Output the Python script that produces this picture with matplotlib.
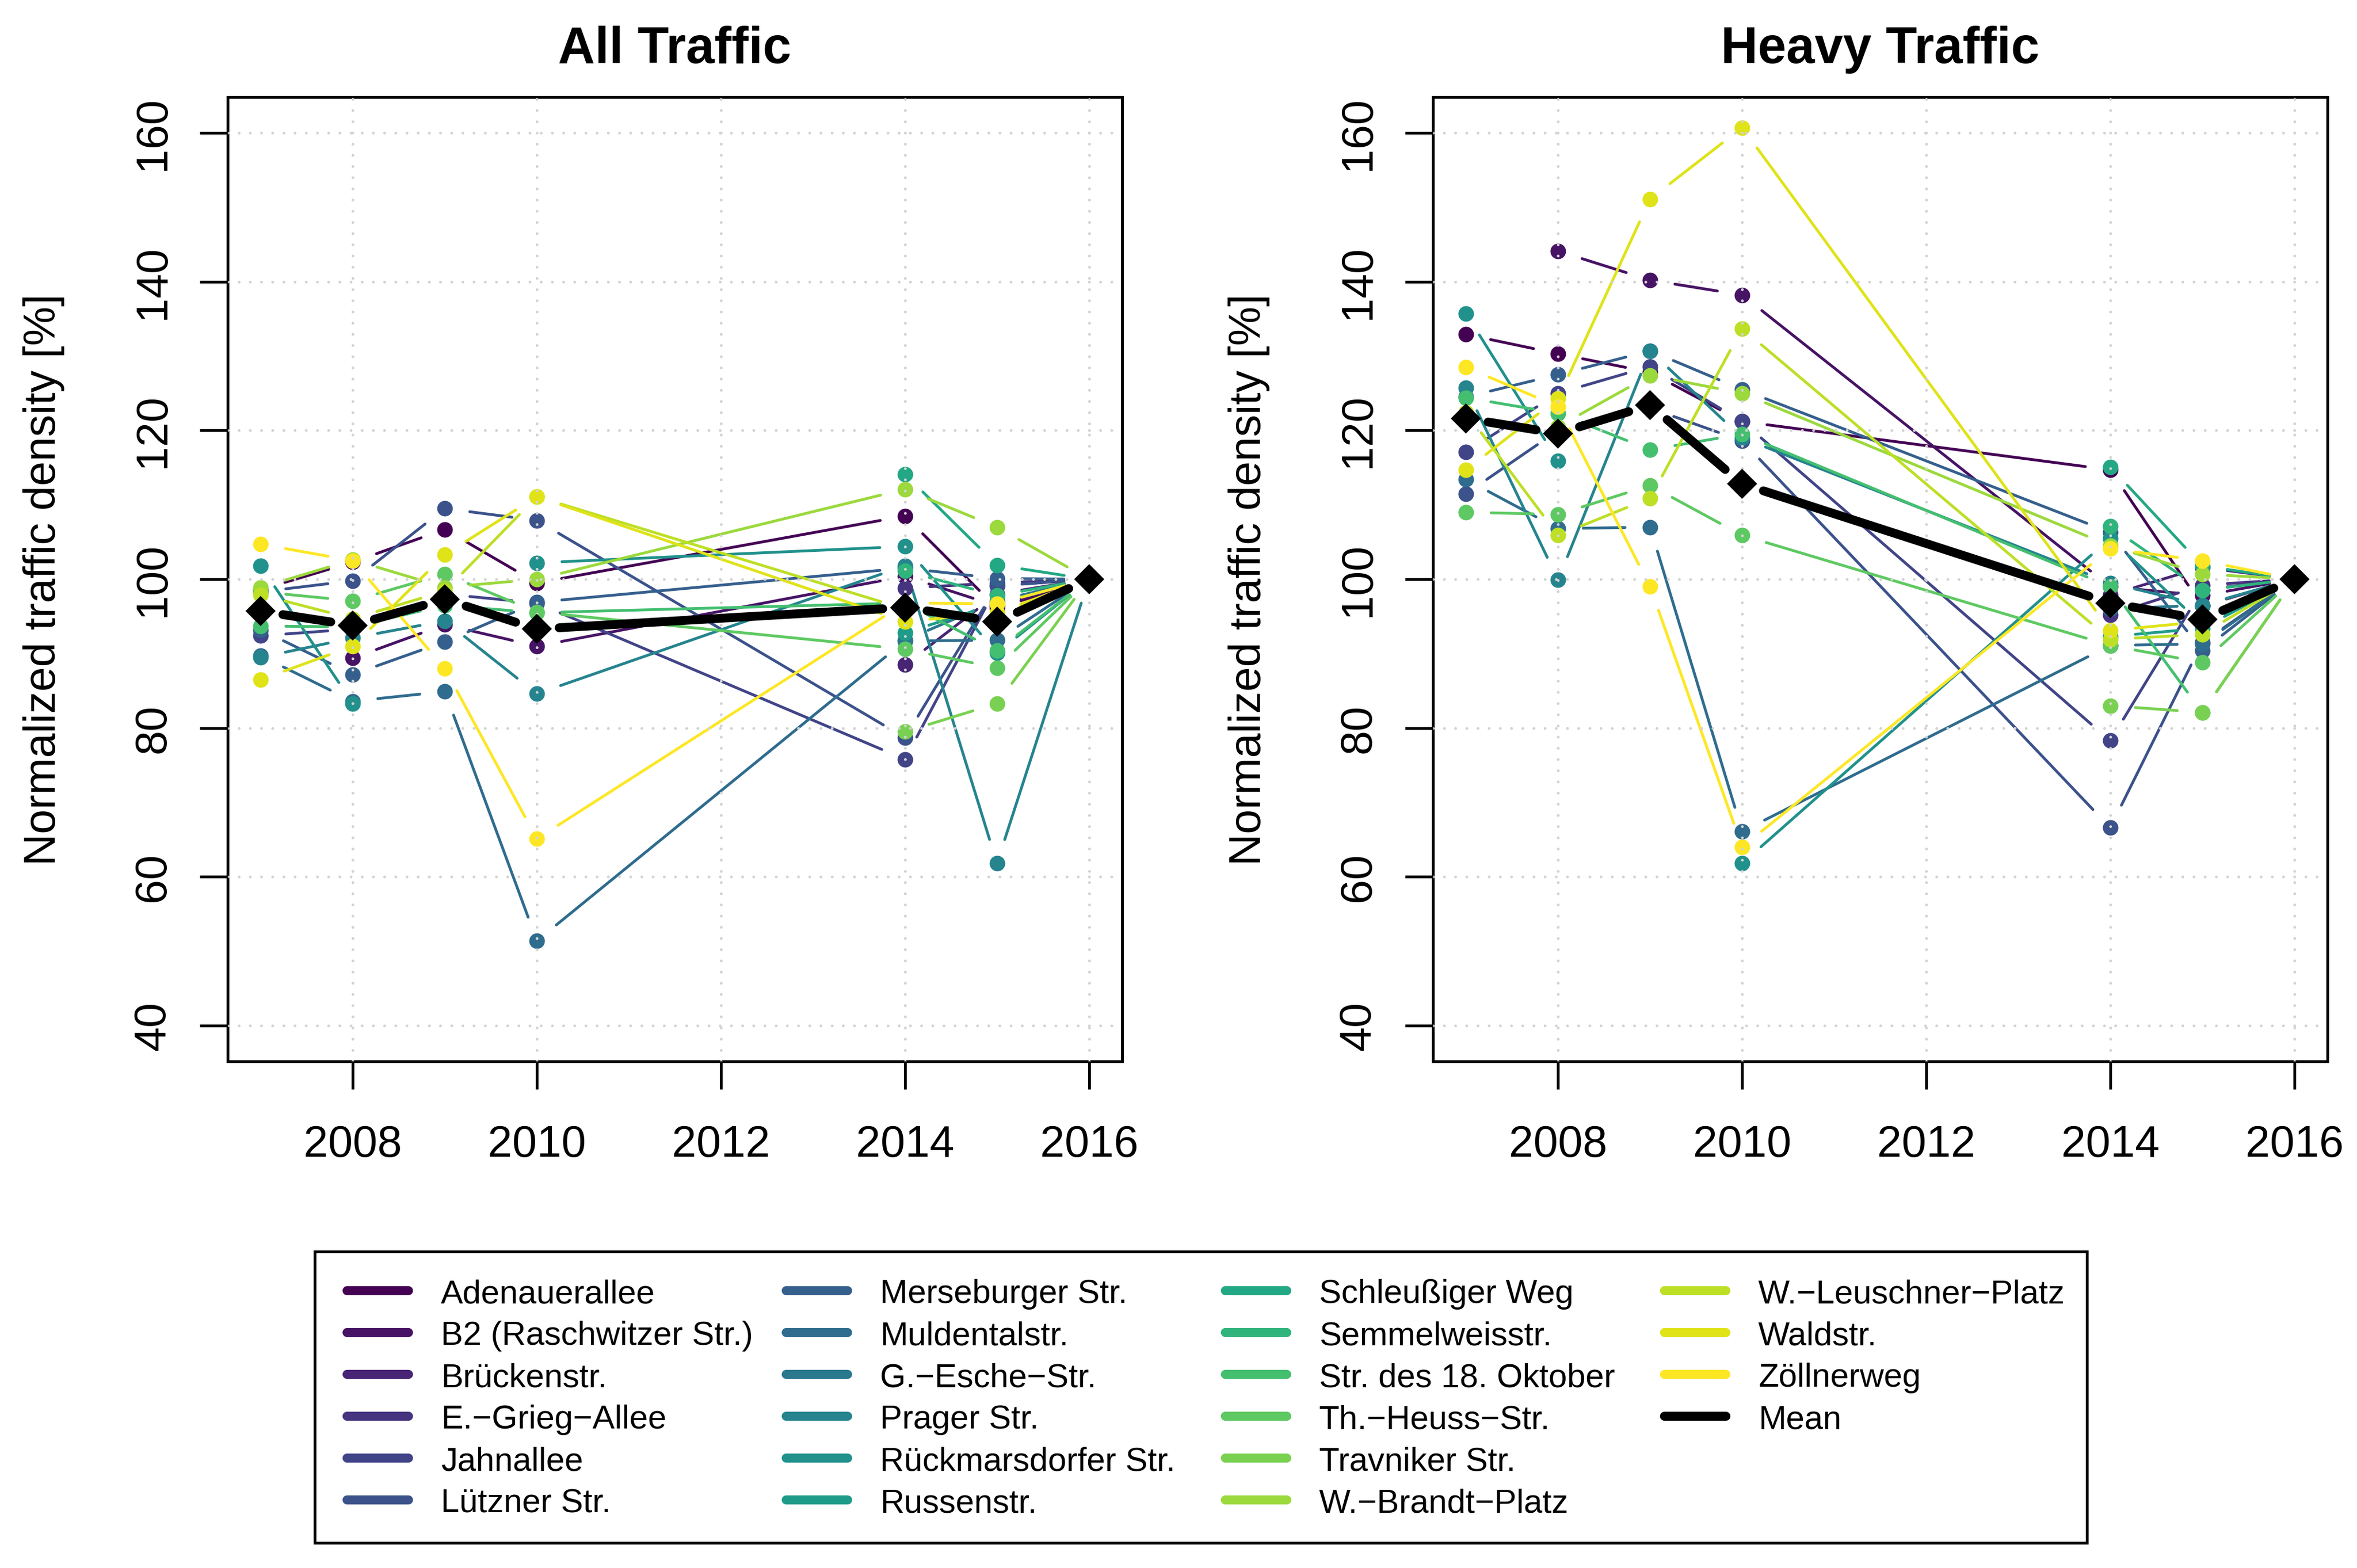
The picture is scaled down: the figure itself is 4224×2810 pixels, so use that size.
import numpy as np
import matplotlib
matplotlib.use("Agg")
import matplotlib.pyplot as plt
from matplotlib.lines import Line2D
from matplotlib.patches import Rectangle

plt.rcParams['font.family'] = ['Liberation Sans', 'DejaVu Sans']

nan = np.nan
years = [2007, 2008, 2009, 2010, 2014, 2015, 2016]

stations = ["Adenauerallee", "B2 (Raschwitzer Str.)", "Brückenstr.", "E.\u2212Grieg\u2212Allee",
            "Jahnallee", "Lützner Str.", "Merseburger Str.", "Muldentalstr.", "G.\u2212Esche\u2212Str.",
            "Prager Str.", "Rückmarsdorfer Str.", "Russenstr.", "Schleußiger Weg", "Semmelweisstr.",
            "Str. des 18. Oktober", "Th.\u2212Heuss\u2212Str.", "Travniker Str.", "W.\u2212Brandt\u2212Platz",
            "W.\u2212Leuschner\u2212Platz", "Waldstr.", "Zöllnerweg"]

# normalized to 2016 = 100, one row per station (years as above)
all_traffic = [
    [98.6, 102.3, 106.7, 99.5, 108.5, 96.1, 100],
    [nan, 89.4, 93.9, 91.0, 100.4, 96.4, 100],
    [nan, nan, nan, nan, 88.5, 98.0, 100],
    [nan, nan, nan, nan, 98.8, 99.5, 100],
    [92.4, 93.3, 98.0, 96.8, 75.8, 99.1, 100],
    [98.3, 99.8, 109.5, 107.9, 78.7, 99.1, 100],
    [93.2, 87.2, 91.6, 96.9, 101.5, 100.1, 100],
    [89.7, 83.6, 84.9, 51.4, 91.7, 91.8, 100],
    [nan, nan, nan, nan, 91.8, 97.1, 100],
    [89.5, 92.1, 94.4, 84.6, 101.8, 61.8, 100],
    [101.8, 83.3, nan, 102.2, 104.4, 90.1, 100],
    [nan, nan, nan, nan, 92.8, 96.7, 100],
    [nan, nan, nan, nan, 114.1, 101.9, 100],
    [nan, nan, nan, nan, 101.1, 97.8, 100],
    [93.7, 93.6, 96.5, 95.5, 96.8, 90.4, 100],
    [98.3, 97.1, 100.7, 95.6, 90.6, 88.1, 100],
    [nan, nan, nan, nan, 79.5, 83.3, 100],
    [98.9, 102.6, 98.9, 100.0, 112.1, 107.0, 100],
    [97.9, 94.7, 98.4, 111.1, 96.0, 95.0, 100],
    [86.5, 91.0, 103.3, 111.1, 94.3, 95.5, 100],
    [104.7, 102.5, 88.0, 65.1, 96.8, 96.7, 100],
]
all_mean = [95.7, 93.8, 97.3, 93.3, 96.2, 94.3, 100]

heavy_traffic = [
    [132.9, 130.3, 127.8, 121.2, 114.7, 96.4, 100],
    [nan, 144.1, 140.2, 138.2, 99.0, 97.8, 100],
    [nan, nan, nan, nan, 97.9, 101.6, 100],
    [nan, nan, nan, nan, 95.2, 99.2, 100],
    [117.1, 125.0, 128.6, 121.2, 78.3, 98.6, 100],
    [111.5, 120.0, 123.0, 118.6, 66.6, 91.5, 100],
    [124.5, 127.5, 130.7, 125.5, 106.3, 90.4, 100],
    [113.4, 106.8, 107.0, 66.1, 91.1, 91.3, 100],
    [nan, nan, nan, nan, 96.0, 96.5, 100],
    [125.7, 99.9, 130.7, 119.0, 99.5, 96.5, 100],
    [135.7, 115.9, nan, 61.8, 105.5, 93.9, 100],
    [nan, nan, nan, nan, 92.3, 93.4, 100],
    [nan, nan, nan, nan, 115.1, 101.8, 100],
    [nan, nan, nan, nan, 107.1, 98.5, 100],
    [124.4, 122.3, 117.4, 119.5, 99.0, 82.1, 100],
    [109.0, 108.7, 112.6, 105.9, 91.1, 88.8, 100],
    [nan, nan, nan, nan, 83.0, 82.1, 100],
    [nan, 120.5, 127.4, 125.0, 104.5, 100.7, 100],
    [122.4, 105.9, 110.9, 133.7, 91.9, 92.6, 100],
    [114.7, 124.3, 151.1, 160.7, 93.1, 94.3, 100],
    [128.5, 123.2, 99.0, 64.0, 104.1, 102.5, 100],
]
heavy_mean = [121.6, 119.6, 123.4, 112.8, 96.8, 94.6, 100]

colors = plt.cm.viridis(np.linspace(0, 1, len(stations)))

DPI = 300
W, H = 4224, 2811
fig = plt.figure(figsize=(W / DPI, H / DPI), dpi=DPI)


def gap_lines(ax, x, y, gap_px, **kw):
    # R type="b": segments stop short of the points
    pts = ax.transData.transform(np.column_stack([x, y]))
    inv = ax.transData.inverted()
    for i in range(len(x) - 1):
        if np.isnan(y[i]) or np.isnan(y[i + 1]):
            continue
        p0, p1 = pts[i], pts[i + 1]
        d = p1 - p0
        L = np.hypot(d[0], d[1])
        if L <= 2 * gap_px:
            continue
        u = d / L
        seg = inv.transform([p0 + u * gap_px, p1 - u * gap_px])
        ax.plot(seg[:, 0], seg[:, 1], solid_capstyle='round', **kw)


def panel(rect, data, mean, title):
    ax = fig.add_axes(rect)
    ax.set_xlim(2006.64, 2016.36)
    ax.set_ylim(35.2, 164.8)
    ax.set_xticks([2008, 2010, 2012, 2014, 2016])
    ax.set_yticks([40, 60, 80, 100, 120, 140, 160])
    x = np.array(years, dtype=float)

    for i, row in enumerate(data):
        y = np.array(row, dtype=float)
        gap_lines(ax, x, y, 45, color=colors[i], lw=1.2, zorder=1)
    for i, row in enumerate(data):
        ax.plot(x, row, 'o', color=colors[i], ms=6.7, mec='none', zorder=2)

    ax.set_axisbelow(False)
    ax.grid(True, color='#d3d3d3', linestyle=(0, (0.01, 4)), linewidth=1.2,
            dash_capstyle='round')

    m = np.array(mean, dtype=float)
    gap_lines(ax, x, m, 40, color='black', lw=3.8, zorder=3)
    ax.plot(x, m, 'D', color='black', ms=9.3, mec='none', zorder=3)

    for s in ax.spines.values():
        s.set_linewidth(1.2)
    ax.tick_params(axis='both', direction='out', length=12, width=1.2, labelsize=19)
    ax.tick_params(axis='x', pad=15)
    ax.tick_params(axis='y', pad=11)
    plt.setp(ax.get_yticklabels(), rotation=90, va='center')
    ax.set_ylabel("Normalized traffic density [%]", fontsize=19)
    ax.yaxis.set_label_coords(-0.182, 0.5)
    ax.set_title(title, fontsize=22, fontweight='bold', pad=14.8)
    return ax


panel([408 / W, 1 - 1903 / H, 1603 / W, 1728 / H], all_traffic, all_mean, "All Traffic")
panel([2568 / W, 1 - 1903 / H, 1603 / W, 1728 / H], heavy_traffic, heavy_mean, "Heavy Traffic")

# legend: 4 equal-width columns (as R does), 6 rows, framed box
handles = [Line2D([], [], color=colors[i], lw=3.9, solid_capstyle='round') for i in range(len(stations))]
handles.append(Line2D([], [], color='black', lw=3.9, solid_capstyle='round'))
labels = stations + ["Mean"]
col_x = [622, 1409, 2196, 2983]
for c in range(4):
    leg = fig.legend(handles[c * 6:(c + 1) * 6], labels[c * 6:(c + 1) * 6], ncol=1,
                     loc='upper left', bbox_to_anchor=(col_x[c] / W, 1 - 2292 / H),
                     borderaxespad=0, borderpad=0, fontsize=14.3, frameon=False,
                     labelspacing=0.336, handlelength=1.85, handletextpad=0.97)
fig.add_artist(Rectangle((564 / W, 1 - 2766 / H), 3176 / W, 522 / H, transform=fig.transFigure,
                         fill=False, edgecolor='black', linewidth=1.2))

fig.savefig("out.png", dpi=DPI)
